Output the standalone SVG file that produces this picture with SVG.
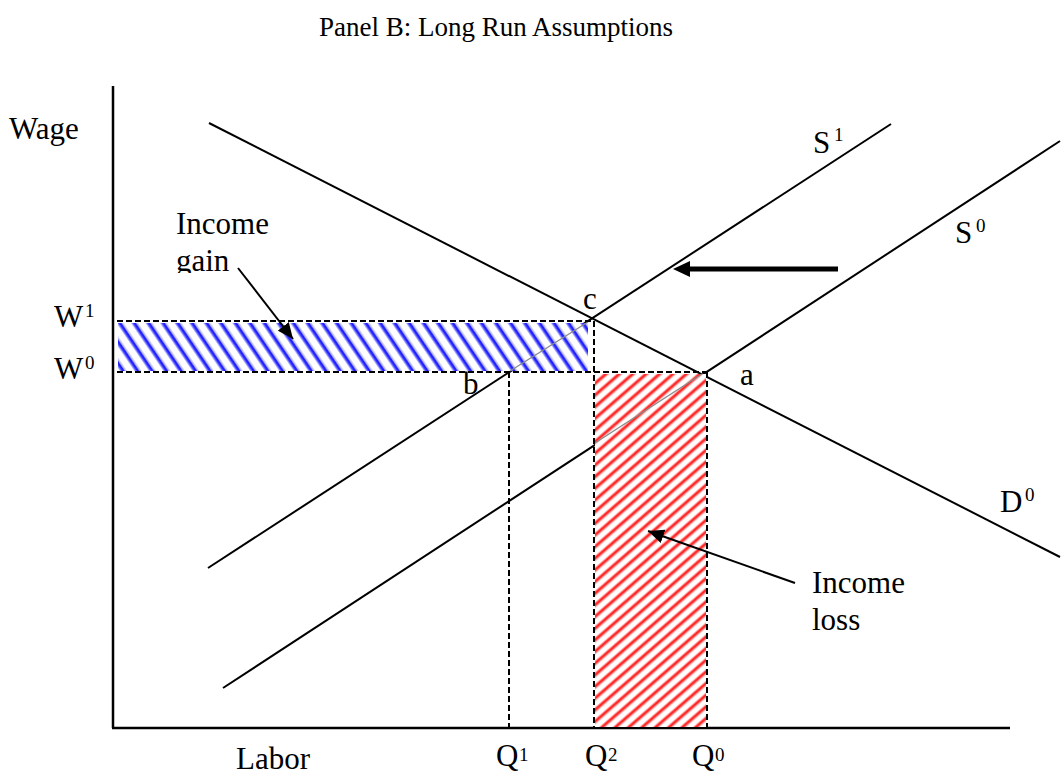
<svg xmlns="http://www.w3.org/2000/svg" width="1061" height="782" viewBox="0 0 1061 782">
<style>
text{font-family:"Liberation Serif","Times New Roman",serif;fill:#000}
.lbl{font-size:31px}
.sup{font-size:19px}
.ttl{font-size:27px}
.ln{stroke:#000;stroke-width:2;fill:none}
.ax{stroke:#000;stroke-width:2.5;fill:none}
.dash{stroke:#000;stroke-width:2;stroke-dasharray:6 3;fill:none}
.gray{stroke:#8a8a8a;stroke-width:1.3;fill:none}
</style>
<defs>
<pattern id="blueH" patternUnits="userSpaceOnUse" width="12" height="12" patternTransform="rotate(-34)">
<rect width="12" height="12" fill="#fff"/>
<rect x="0" width="5.5" height="12" fill="#a8a8ff"/>
<rect x="1.4" width="2.6" height="12" fill="#2222ff"/>
</pattern>
<pattern id="redH" patternUnits="userSpaceOnUse" width="8.8" height="8.8" patternTransform="rotate(49)">
<rect width="8.8" height="8.8" fill="#fff"/>
<rect x="0" width="4.4" height="8.8" fill="#ffa8a8"/>
<rect x="1.1" width="2.2" height="8.8" fill="#ff2222"/>
</pattern>
<marker id="ah" markerUnits="userSpaceOnUse" markerWidth="16" markerHeight="14" refX="16" refY="7" orient="auto">
<path d="M0,0 L16,7 L0,14 z" fill="#000"/>
</marker>
<clipPath id="gainClip"><rect x="0" y="0" width="400" height="273"/></clipPath>
</defs>

<g id="title"><text class="ttl" x="496" y="36" text-anchor="middle">Panel B: Long Run Assumptions</text></g>

<g id="axes">
<line class="ax" x1="113" y1="86" x2="113" y2="728"/>
<line class="ax" x1="112" y1="728" x2="1010" y2="728"/>
<text class="lbl" x="9" y="139">Wage</text>
<text class="lbl" x="236" y="769">Labor</text>
</g>

<g id="curves">
<line id="D0" class="ln" x1="209" y1="123" x2="1060" y2="557"/>
<line id="S1" class="ln" x1="208" y1="568" x2="891" y2="124"/>
<line id="S0" class="ln" x1="223" y1="688" x2="1060" y2="141"/>
</g>

<g id="income-gain-area">
<rect x="118" y="323" width="470" height="48" fill="url(#blueH)"/>
<line class="gray" x1="510" y1="371" x2="588" y2="322"/>
</g>

<g id="income-loss-area">
<rect x="595" y="374" width="111" height="353" fill="url(#redH)"/>
<line class="gray" x1="595" y1="443" x2="702" y2="374"/>
</g>

<g id="guides">
<line class="dash" x1="117" y1="321" x2="594" y2="321"/>
<line class="dash" x1="117" y1="372" x2="707" y2="372"/>
<line class="dash" x1="594" y1="321" x2="594" y2="727"/>
<line class="dash" x1="509" y1="372" x2="509" y2="727"/>
<line class="dash" x1="707" y1="372" x2="707" y2="727"/>
</g>

<g id="connectors">
<line class="ln" x1="238" y1="268" x2="293" y2="339" marker-end="url(#ah)"/>
<line class="ln" x1="795" y1="583" x2="648" y2="531" marker-end="url(#ah)"/>
<line stroke="#000" stroke-width="5" x1="838" y1="269" x2="688" y2="269"/>
<polygon points="673,269 690,261 690,277" fill="#000"/>
</g>

<g id="labels">
<text class="lbl" x="54" y="327">W</text><text class="sup" x="85" y="317">1</text>
<text class="lbl" x="54" y="379">W</text><text class="sup" x="85" y="369">0</text>
<text class="lbl" x="176" y="234">Income</text>
<text class="lbl" x="176" y="271" clip-path="url(#gainClip)">gain</text>
<text class="lbl" x="583" y="309">c</text>
<text class="lbl" x="463" y="394">b</text>
<text class="lbl" x="740" y="385">a</text>
<text class="lbl" x="813" y="153">S</text><text class="sup" x="834" y="141">1</text>
<text class="lbl" x="955" y="243">S</text><text class="sup" x="976" y="232">0</text>
<text class="lbl" x="1000" y="512">D</text><text class="sup" x="1025" y="501">0</text>
<text class="lbl" x="812" y="593">Income</text>
<text class="lbl" x="812" y="630">loss</text>
<text class="lbl" x="496" y="766">Q</text><text class="sup" x="519" y="761">1</text>
<text class="lbl" x="585" y="766">Q</text><text class="sup" x="608" y="761">2</text>
<text class="lbl" x="692" y="766">Q</text><text class="sup" x="715" y="761">0</text>
</g>
</svg>
